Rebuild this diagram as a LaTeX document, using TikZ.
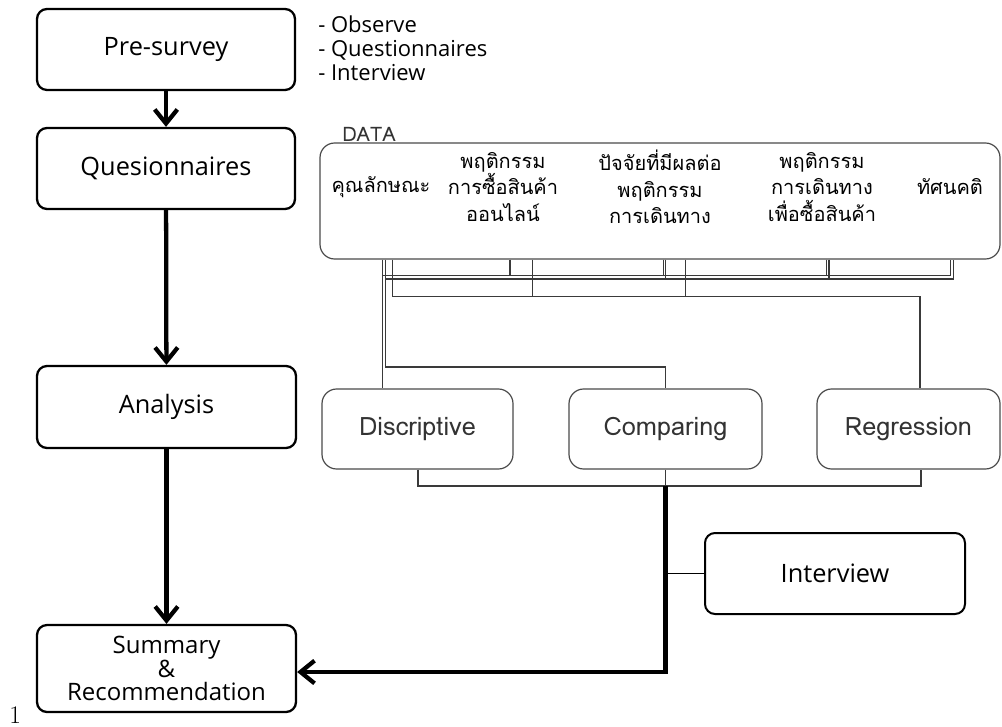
\documentclass[tikz,border=0pt]{standalone}
\usepackage{fontspec}
\usetikzlibrary{arrows.meta}
\newfontfamily\latfont{Open Sans}
\newfontfamily\thaifont[Script=Thai]{Loma}
\definecolor{wirecol}{HTML}{3A3A3A}
\definecolor{graybox}{HTML}{4A4A4A}
\definecolor{graytext}{HTML}{333333}
\tikzset{
  mainbox/.style={draw=black, line width=1.7pt, rounded corners=7.5pt, font=\latfont\fontsize{19}{22}\selectfont, align=center, inner sep=0pt},
  methodbox/.style={draw=graybox, line width=0.9pt, rounded corners=11pt, font=\thaifont\fontsize{19}{22}\selectfont, text=graytext, align=center, inner sep=0pt, minimum height=60pt},
  wire/.style={draw=wirecol, line width=0.8pt},
  thickarr/.style={line width=3.2pt, -{Straight Barb[length=10.5pt,width=17pt]}},
  datatext/.style={font=\thaifont\fontsize{15}{20}\selectfont, text=black, align=center, inner sep=0pt}
}
\begin{document}
\begin{tikzpicture}[x=0.75pt,y=-0.75pt]
\useasboundingbox (0,0) rectangle (1002,727);
% left column
\node[mainbox, minimum width=193.5pt, minimum height=60.75pt] (pre) at (166,49.5) {Pre-survey};
\node[mainbox, minimum width=193.5pt, minimum height=60.75pt] (ques) at (166,168.5) {Quesionnaires};
\node[mainbox, minimum width=194.25pt, minimum height=61.5pt] (ana) at (166.5,407) {Analysis};
\node[mainbox, minimum width=194.25pt, minimum height=65.25pt, font=\latfont\fontsize{18}{17.5}\selectfont] (sum) at (166.5,668.5) {Summary\\\&\\Recommendation};
\draw[thickarr] (pre) -- (ques);
\draw[thickarr] (ques) -- (ana);
\draw[thickarr] (ana) -- (sum);
% bullets
\node[anchor=north west, align=left, inner sep=0pt, font=\latfont\fontsize{16.5}{18}\selectfont] (bul) at (318,16) {- Observe\\- Questionnaires\\- Interview};
% data box
\node[draw=graybox, line width=0.9pt, rounded corners=11pt, minimum width=510pt, minimum height=87pt] (data) at (660,201) {};
\node[anchor=south west, inner sep=0pt, font=\thaifont\fontsize{15}{18}\selectfont, text=graytext] (dlabel) at (342,142) {DATA};
\node[datatext] (d1) at (381,187) {คุณลักษณะ};
\node[datatext] (d2) at (503,187) {พฤติกรรม\\การซื้อสินค้า\\ออนไลน์};
\node[datatext] (d3) at (660,187) {ปัจจัยที่มีผลต่อ\\พฤติกรรม\\การเดินทาง};
\node[datatext] (d4) at (822,187) {พฤติกรรม\\การเดินทาง\\เพื่อซื้อสินค้า};
\node[datatext] (d5) at (950,187) {ทัศนคติ};
% method boxes
\node[methodbox, minimum width=143.25pt] (desc) at (417.5,429) {Discriptive};
\node[methodbox, minimum width=144.75pt] (comp) at (665.5,429) {Comparing};
\node[methodbox, minimum width=137.25pt] (reg) at (908.5,429) {Regression};
\node[mainbox, line width=1.5pt, minimum width=195pt, minimum height=60.75pt, font=\latfont\fontsize{19}{22}\selectfont] (int) at (835,573.5) {Interview};
% wire coordinates
\coordinate (c1) at (382.7,0);
\coordinate (c2) at (385.5,0);
\coordinate (c3) at (392.7,0);
\coordinate (c4) at (510,0);
\coordinate (c5) at (532.7,0);
\coordinate (c6) at (663.3,0);
\coordinate (c7) at (665.7,0);
\coordinate (c8) at (685.7,0);
\coordinate (c9) at (826.7,0);
\coordinate (c10) at (829,0);
\coordinate (c11) at (950.7,0);
\coordinate (c12) at (953.3,0);
\coordinate (c13) at (920,0);
\coordinate (cd) at (418,0);
\coordinate (cc) at (665.5,0);
\coordinate (cr) at (921,0);
\coordinate (yb1) at (0,275.7);
\coordinate (yb2) at (0,279);
\coordinate (yb3) at (0,296.7);
\coordinate (ycomp) at (0,367);
\coordinate (ybot) at (0,486);
\coordinate (ysum) at (0,672);
% bus to Discriptive
\draw[wire] (data.south -| c1) -- (desc.north -| c1);
\draw[wire] (c1 |- yb1) -- (c11 |- yb1) -- (data.south -| c11);
\draw[wire] (data.south -| c4) -- (c4 |- yb1);
\draw[wire] (data.south -| c6) -- (c6 |- yb1);
\draw[wire] (data.south -| c9) -- (c9 |- yb1);
% bus to Comparing
\draw[wire] (data.south -| c2) -- (c2 |- ycomp) -- (cc |- ycomp) -- (comp.north -| cc);
\draw[wire] (c2 |- yb2) -- (c12 |- yb2) -- (data.south -| c12);
\draw[wire] (data.south -| c7) -- (c7 |- yb2);
\draw[wire] (data.south -| c10) -- (c10 |- yb2);
% bus to Regression
\draw[wire] (data.south -| c3) -- (c3 |- yb3) -- (c13 |- yb3) -- (reg.north -| c13);
\draw[wire] (data.south -| c5) -- (c5 |- yb3);
\draw[wire] (data.south -| c8) -- (c8 |- yb3);
% bottom bus
\draw[wire] (desc.south -| cd) -- (cd |- ybot) -- (cr |- ybot) -- (reg.south -| cr);
\draw[wire] (comp.south -| cc) -- (cc |- ybot);
\draw[thickarr] (cc |- ybot) -- (cc |- ysum) -- (sum.east |- ysum);
\draw[line width=1.2pt] (int.west) -- (int.west -| cc);
% page number
\node[anchor=base west, inner sep=0pt, font=\fontsize{19}{19}\selectfont] (pg) at (9,723) {1};
\end{tikzpicture}
\end{document}
